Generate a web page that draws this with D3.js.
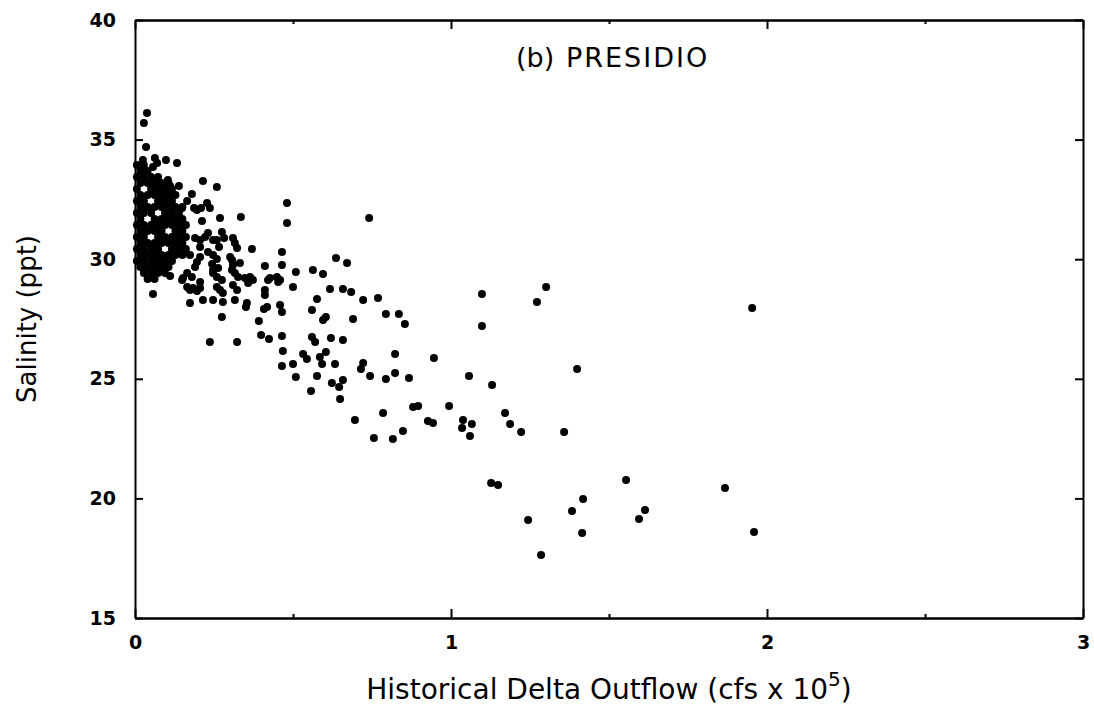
<!DOCTYPE html>
<html>
<head>
<meta charset="utf-8">
<script src="https://cdn.jsdelivr.net/npm/d3@7"></script>
<style>
  body { margin: 0; background: #fff; }
  svg text { font-family: "DejaVu Sans", sans-serif; fill: #000; }
</style>
</head>
<body>
<div id="chart"></div>
<script>
// observations read off the plot: [outflow (cfs x 1e5), salinity (ppt)]
// the solid clump at very low outflow
const denseObs = [
  [0.006,33.94],[0.028,33.94],
  [0.017,33.69],[0.040,33.69],
  [0.006,33.44],[0.028,33.44],[0.051,33.44],[0.073,33.44],
  [0.017,33.19],[0.040,33.19],[0.062,33.19],[0.084,33.19],[0.106,33.19],
  [0.006,32.93],[0.051,32.93],[0.073,32.93],[0.095,32.93],[0.117,32.93],
  [0.017,32.68],[0.040,32.68],[0.062,32.68],[0.084,32.68],[0.106,32.68],[0.128,32.68],
  [0.006,32.43],[0.028,32.43],[0.073,32.43],[0.095,32.43],[0.117,32.43],
  [0.017,32.18],[0.040,32.18],[0.062,32.18],[0.084,32.18],[0.106,32.18],[0.128,32.18],[0.150,32.18],
  [0.006,31.93],[0.028,31.93],[0.051,31.93],[0.095,31.93],[0.117,31.93],[0.139,31.93],
  [0.017,31.68],[0.062,31.68],[0.084,31.68],[0.106,31.68],[0.128,31.68],[0.150,31.68],
  [0.006,31.43],[0.028,31.43],[0.051,31.43],[0.073,31.43],[0.095,31.43],[0.117,31.43],[0.139,31.43],[0.161,31.43],
  [0.017,31.18],[0.040,31.18],[0.062,31.18],[0.084,31.18],[0.128,31.18],[0.150,31.18],
  [0.006,30.93],[0.028,30.93],[0.073,30.93],[0.095,30.93],[0.117,30.93],[0.139,30.93],[0.161,30.93],
  [0.017,30.68],[0.040,30.68],[0.062,30.68],[0.084,30.68],[0.106,30.68],[0.128,30.68],[0.150,30.68],
  [0.006,30.43],[0.028,30.43],[0.051,30.43],[0.073,30.43],[0.117,30.43],[0.139,30.43],[0.161,30.43],
  [0.017,30.18],[0.040,30.18],[0.062,30.18],[0.084,30.18],[0.106,30.18],[0.128,30.18],[0.150,30.18],
  [0.006,29.92],[0.028,29.92],[0.051,29.92],[0.073,29.92],[0.095,29.92],[0.117,29.92],
  [0.017,29.67],[0.040,29.67],[0.062,29.67],[0.084,29.67],[0.106,29.67],
  [0.028,29.42],[0.051,29.42],[0.073,29.42],[0.095,29.42],
  [0.040,29.17],[0.062,29.17]
];

// scattered points below 0.5
const lowFlowObs = [
  [0.038,36.11],[0.028,35.69],[0.035,34.69],[0.025,34.15],[0.063,34.23],[0.070,34.02],[0.057,33.85],
  [0.098,34.15],[0.133,34.02],[0.104,33.31],[0.111,33.06],[0.139,33.06],[0.215,33.27],[0.259,33.02],
  [0.180,32.73],[0.165,32.43],[0.228,32.35],[0.237,32.14],[0.196,32.06],[0.209,32.14],[0.269,31.72],
  [0.212,31.60],[0.335,31.76],[0.149,32.14],[0.187,32.14],
  [0.190,30.89],[0.206,30.80],[0.222,30.93],[0.231,31.10],[0.247,30.80],[0.259,30.80],[0.275,31.14],
  [0.282,30.89],[0.310,30.89],[0.316,30.68],[0.323,30.47],[0.370,30.43],[0.411,29.72],[0.158,30.30],
  [0.174,30.18],[0.206,30.09],[0.196,29.88],[0.190,29.67],[0.247,30.18],[0.259,30.01],[0.244,29.80],
  [0.247,29.55],[0.263,29.63],[0.307,29.97],[0.310,29.76],[0.332,29.84],[0.165,29.42],[0.152,29.21],
  [0.180,29.26],[0.247,29.42],[0.259,29.26],[0.275,29.13],[0.307,29.55],[0.316,29.42],[0.326,29.26],
  [0.348,29.21],[0.364,29.26],[0.373,29.13],[0.358,29.01],[0.421,29.13],[0.427,29.21],[0.449,29.26],
  [0.453,29.05],[0.165,28.84],[0.184,28.80],[0.206,28.80],[0.259,28.84],[0.269,28.71],[0.278,28.59],
  [0.310,28.92],[0.323,28.71],[0.411,28.71],[0.411,28.50],[0.174,28.17],[0.215,28.29],[0.247,28.29],
  [0.278,28.21],[0.316,28.29],[0.354,28.17],[0.459,28.09],[0.418,28.00],[0.057,28.55],[0.111,29.30],
  [0.149,29.13],[0.351,28.00],[0.275,27.58],[0.237,26.54],[0.323,26.54],[0.399,26.83],[0.424,26.66],
  [0.392,27.42],[0.408,27.92],[0.301,30.09],[0.266,30.51],[0.206,29.05],[0.174,28.71],[0.196,28.67],
  [0.057,29.92],[0.206,30.51],[0.231,30.30]
];

// 0.45 to 1.0
const midFlowObs = [
  [0.481,32.35],[0.481,31.51],[0.741,31.72],[0.465,30.30],[0.465,29.76],[0.636,30.05],[0.671,29.84],
  [0.509,29.46],[0.563,29.55],[0.595,29.38],[0.459,29.13],[0.500,28.84],[0.617,28.75],[0.658,28.75],
  [0.684,28.63],[0.576,28.34],[0.722,28.29],[0.769,28.38],[0.560,27.88],[0.465,27.79],[0.604,27.58],
  [0.595,27.46],[0.690,27.50],[0.794,27.71],[0.835,27.71],[0.854,27.29],[0.560,26.75],[0.570,26.54],
  [0.465,26.79],[0.620,26.71],[0.658,26.62],[0.468,26.16],[0.532,26.04],[0.544,25.83],[0.604,26.12],
  [0.585,25.91],[0.592,25.62],[0.823,26.04],[0.946,25.87],[0.465,25.54],[0.500,25.62],[0.633,25.62],
  [0.722,25.66],[0.715,25.41],[0.509,25.08],[0.576,25.12],[0.744,25.12],[0.794,24.99],[0.823,25.24],
  [0.867,25.03],[0.623,24.82],[0.646,24.66],[0.658,24.95],[0.557,24.49],[0.649,24.16],[0.880,23.82],
  [0.896,23.86],[0.994,23.86],[0.785,23.57],[0.696,23.28],[0.927,23.24],[0.943,23.15],[0.848,22.82],
  [0.756,22.53],[0.816,22.48]
];

// above 1.0
const highFlowObs = [
  [1.098,28.55],[1.301,28.84],[1.272,28.21],[1.098,27.21],[1.399,25.41],[1.057,25.12],[1.130,24.74],
  [1.171,23.57],[1.038,23.28],[1.035,22.94],[1.066,23.11],[1.187,23.11],[1.222,22.78],[1.358,22.78],
  [1.060,22.61],[1.953,27.96],[1.554,20.77],[1.418,19.97],[1.383,19.47],[1.614,19.52],[1.595,19.14],
  [1.415,18.55],[1.867,20.43],[1.959,18.60],[1.127,20.64],[1.149,20.56],[1.244,19.10],[1.285,17.63]
];

const xMajor = [0, 1, 2, 3];
const xMinor = [0.5, 1.5, 2.5];
const yTicks = [15, 20, 25, 30, 35, 40];

const W = 1094, H = 709;
const svg = d3.select("#chart").append("svg")
  .attr("width", W).attr("height", H);

const x = d3.scaleLinear().domain([0, 3]).range([135, 1083]);
const y = d3.scaleLinear().domain([15, 40]).range([618, 20]);

// points
const allObs = denseObs.concat(lowFlowObs, midFlowObs, highFlowObs);
svg.append("g")
  .selectAll("circle")
  .data(allObs)
  .join("circle")
    .attr("cx", d => x(d[0]))
    .attr("cy", d => y(d[1]))
    .attr("r", 4)
    .attr("fill", "#000");

// axes, ticks pointing inward
function styleAxis(g) {
  g.select(".domain").attr("stroke", "#000").attr("stroke-width", 2);
  g.selectAll(".tick line").attr("stroke", "#000").attr("stroke-width", 2);
  g.selectAll(".tick text")
    .style("font-size", "19px").style("font-weight", "bold")
    .attr("fill", "#000");
}

svg.append("g")
  .attr("transform", `translate(0,${y(15)})`)
  .call(d3.axisBottom(x).tickValues(xMajor).tickSize(-9).tickSizeOuter(0)
    .tickPadding(18).tickFormat(d3.format("d")))
  .call(styleAxis);
svg.append("g")
  .attr("transform", `translate(0,${y(15)})`)
  .call(d3.axisBottom(x).tickValues(xMinor).tickSize(-4).tickSizeOuter(0).tickFormat(""))
  .call(styleAxis);

svg.append("g")
  .attr("transform", `translate(0,${y(40)})`)
  .call(d3.axisTop(x).tickValues(xMajor).tickSize(-9).tickSizeOuter(0).tickFormat(""))
  .call(styleAxis);
svg.append("g")
  .attr("transform", `translate(0,${y(40)})`)
  .call(d3.axisTop(x).tickValues(xMinor).tickSize(-4).tickSizeOuter(0).tickFormat(""))
  .call(styleAxis);

svg.append("g")
  .attr("transform", `translate(${x(0)},0)`)
  .call(d3.axisLeft(y).tickValues(yTicks).tickSize(-8).tickSizeOuter(0).tickPadding(19))
  .call(styleAxis);
svg.append("g")
  .attr("transform", `translate(${x(3)},0)`)
  .call(d3.axisRight(y).tickValues(yTicks).tickSize(-8).tickSizeOuter(0).tickFormat(""))
  .call(styleAxis);

// title inside the plot
svg.append("text")
  .attr("x", 516).attr("y", 67)
  .style("font-size", "27px")
  .text("(b)");
svg.append("text")
  .attr("x", 566).attr("y", 67)
  .style("font-size", "27px")
  .style("letter-spacing", "2px")
  .text("PRESIDIO");

// axis titles
svg.append("text")
  .attr("transform", `translate(36,${(y(15) + y(40)) / 2}) rotate(-90)`)
  .attr("text-anchor", "middle")
  .style("font-size", "26px")
  .text("Salinity (ppt)");

const xt = svg.append("text")
  .attr("x", x(1.5)).attr("y", 699)
  .attr("text-anchor", "middle")
  .style("font-size", "28px");
xt.append("tspan").text("Historical Delta Outflow (cfs x 10");
xt.append("tspan").attr("dy", -13).style("font-size", "20px").text("5");
xt.append("tspan").attr("dy", 13).text(")");
</script>
</body>
</html>
